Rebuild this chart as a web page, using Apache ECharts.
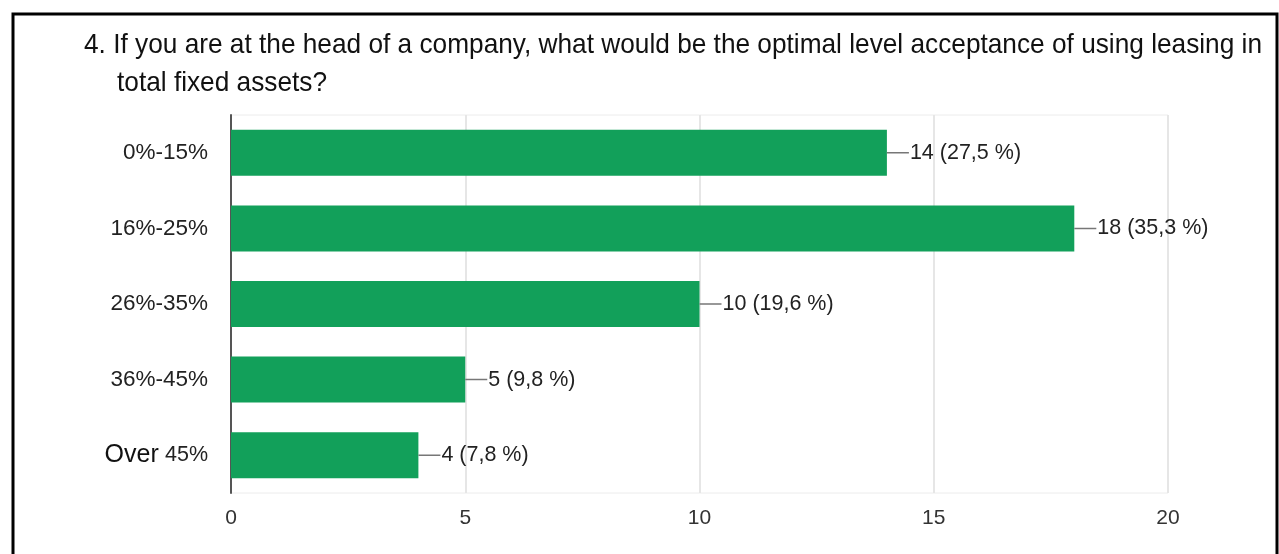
<!DOCTYPE html>
<html>
<head>
<meta charset="utf-8">
<script src="https://cdn.jsdelivr.net/npm/echarts@6/dist/echarts.min.js"></script>
<style>
  html, body { margin: 0; padding: 0; background: #fff; }
  #chart { width: 1279px; height: 554px; }
</style>
</head>
<body>
<div id="chart"></div>
<script>
// Survey question 4: acceptance level of leasing in total fixed assets
const titleLines = [
  '4. If you are at the head of a company, what would be the optimal level acceptance of using leasing in',
  'total fixed assets?'
];
const categories = ['0%-15%', '16%-25%', '26%-35%', '36%-45%', 'Over 45%'];
const counts = [14, 18, 10, 5, 4];
const shares = ['27,5', '35,3', '19,6', '9,8', '7,8'];
const xTicks = [0, 5, 10, 15, 20];

const chart = echarts.init(document.getElementById('chart'), null, { renderer: 'canvas' });

const labelFont = "'Liberation Sans', Arial, sans-serif";
const titleFontCss = "28px 'Liberation Sans', Arial, sans-serif";

// The heading is set in a narrow face: squeeze the regular face horizontally
// so the first line runs to its intended width.
const titleWidth = 1178;
const ctx = document.createElement('canvas').getContext('2d');
ctx.font = titleFontCss;
const squeeze = titleWidth / ctx.measureText(titleLines[0]).width;

chart.setOption({
  backgroundColor: '#fff',
  animation: false,
  graphic: [
    {
      type: 'text', silent: true, x: 84, y: 31, scaleX: squeeze,
      style: {
        text: titleLines[0], font: titleFontCss, fill: '#111',
        textAlign: 'left', textVerticalAlign: 'top'
      }
    },
    {
      type: 'text', silent: true, x: 117, y: 69, scaleX: squeeze,
      style: {
        text: titleLines[1], font: titleFontCss, fill: '#111',
        textAlign: 'left', textVerticalAlign: 'top'
      }
    },
    {
      type: 'rect', silent: true, z: 100,
      shape: { x: 13, y: 14, width: 1264, height: 600 },
      style: { fill: null, stroke: '#000', lineWidth: 3 }
    }
  ],
  grid: {
    left: 231, right: 111, top: 115, bottom: 61,
    show: true, borderColor: '#ececec', borderWidth: 1, backgroundColor: 'transparent'
  },
  xAxis: {
    type: 'value',
    min: xTicks[0], max: xTicks[xTicks.length - 1], interval: 5,
    axisLine: { show: false },
    axisTick: { show: false },
    splitLine: { show: true, lineStyle: { color: '#e6e6e6', width: 2 } },
    axisLabel: {
      margin: 15, color: '#333', fontFamily: labelFont, fontSize: 21,
      formatter: v => xTicks.includes(v) ? String(v) : ''
    }
  },
  yAxis: {
    type: 'category',
    data: categories,
    inverse: true,
    axisLine: { show: true, onZero: false, lineStyle: { color: '#555', width: 2 } },
    axisTick: { show: false },
    splitLine: { show: false },
    axisLabel: {
      margin: 23, color: '#222', fontFamily: labelFont, fontSize: 22.5,
      formatter: v => {
        if (v.startsWith('Over ')) return '{big|Over} {sm|' + v.slice(5) + '}';
        return '{rg|' + v + '}';
      },
      rich: {
        rg: { fontSize: 22.5, color: '#222', fontFamily: labelFont },
        big: { fontSize: 25, color: '#111', fontFamily: labelFont },
        sm: { fontSize: 21.5, color: '#222', fontFamily: labelFont }
      }
    }
  },
  series: [
    {
      type: 'bar',
      data: counts,
      barWidth: 46,
      itemStyle: { color: '#12a05a' },
      label: {
        show: true,
        position: 'right',
        distance: 0,
        formatter: p => '{ln|}{v|' + counts[p.dataIndex] + ' (' + shares[p.dataIndex] + ' %)}',
        rich: {
          ln: { width: 22, height: 0, borderColor: '#777', borderWidth: 1.5 },
          v: { fontSize: 21.5, color: '#222', fontFamily: labelFont, padding: [0, 0, 0, 1] }
        }
      }
    }
  ]
});
</script>
</body>
</html>
